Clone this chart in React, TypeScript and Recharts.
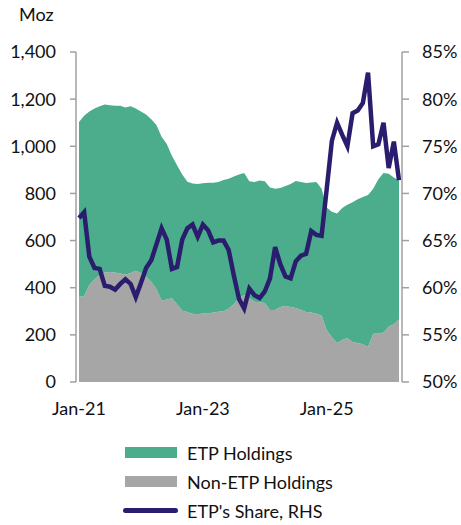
import React from 'react';
import {
    ComposedChart,
    Area,
    Line,
    XAxis,
    YAxis,
} from 'recharts';

// Monthly, Jan-21 .. Mar-26
const months: string[] = [
    'Jan-21', 'Feb-21', 'Mar-21', 'Apr-21', 'May-21', 'Jun-21', 'Jul-21', 'Aug-21', 'Sep-21', 'Oct-21', 'Nov-21', 'Dec-21',
    'Jan-22', 'Feb-22', 'Mar-22', 'Apr-22', 'May-22', 'Jun-22', 'Jul-22', 'Aug-22', 'Sep-22', 'Oct-22', 'Nov-22', 'Dec-22',
    'Jan-23', 'Feb-23', 'Mar-23', 'Apr-23', 'May-23', 'Jun-23', 'Jul-23', 'Aug-23', 'Sep-23', 'Oct-23', 'Nov-23', 'Dec-23',
    'Jan-24', 'Feb-24', 'Mar-24', 'Apr-24', 'May-24', 'Jun-24', 'Jul-24', 'Aug-24', 'Sep-24', 'Oct-24', 'Nov-24', 'Dec-24',
    'Jan-25', 'Feb-25', 'Mar-25', 'Apr-25', 'May-25', 'Jun-25', 'Jul-25', 'Aug-25', 'Sep-25', 'Oct-25', 'Nov-25', 'Dec-25',
    'Jan-26', 'Feb-26', 'Mar-26',
];

// Moz
const nonEtpHoldings: number[] = [
    361, 365, 411, 435, 455, 465, 467, 465, 460, 455, 462, 472,
    462, 448, 425, 395, 345, 350, 355, 330, 302, 297, 290, 285,
    292, 290, 295, 298, 300, 312, 330, 358, 368, 355, 340, 338,
    335, 305, 305, 318, 322, 318, 314, 305, 297, 295, 290, 282,
    220, 190, 165, 178, 187, 170, 165, 160, 148, 205, 206, 210,
    235, 245, 265,
];

const etpHoldings: number[] = [
    742, 765, 737, 725, 715, 712, 707, 707, 712, 710, 708, 688,
    686, 687, 690, 695, 695, 660, 605, 590, 578, 553, 552, 555,
    551, 555, 550, 550, 557, 550, 542, 522, 519, 497, 508, 517,
    517, 520, 515, 505, 510, 522, 539, 543, 547, 551, 558, 538,
    520, 532, 550, 560, 565, 593, 610, 625, 645, 615, 654, 677,
    649, 623, 590,
];

// %, right axis
const etpShare: number[] = [
    67.4, 68.0, 63.3, 62.1, 62.0, 60.2, 60.1, 59.8, 60.4, 60.9, 60.4, 59.0,
    60.5, 62.1, 62.9, 64.6, 66.3, 65.1, 62.0, 62.2, 65.1, 66.3, 66.7, 65.4,
    66.7, 66.1, 64.8, 65.0, 65.0, 64.0, 61.3, 58.8, 57.8, 59.9, 59.2, 58.9,
    59.6, 61.0, 64.3, 62.5, 61.2, 61.0, 62.8, 63.4, 63.6, 66.0, 65.6, 65.5,
    70.5, 75.6, 77.5, 76.2, 75.0, 78.5, 78.8, 79.6, 82.8, 75.0, 75.2, 77.5,
    72.7, 75.5, 71.4,
];

const xTicks = ['Jan-21', 'Jan-23', 'Jan-25'];
const leftTicks = [0, 200, 400, 600, 800, 1000, 1200, 1400];
const rightTicks = [50, 55, 60, 65, 70, 75, 80, 85];

const GREEN = '#4cad8c';
const GREY = '#a6a6a6';
const NAVY = '#2b1d6e';
const AXIS = '#a0a0a0';
const FONT = 'Lato, "Open Sans", sans-serif';

const data = months.map((m, i) => ({
    month: m,
    nonEtp: nonEtpHoldings[i],
    etp: etpHoldings[i],
    share: etpShare[i],
}));

const tickStyle = { fontSize: 18, fill: '#111', fontFamily: FONT };

const LegendRow = ({ kind, color, label }: { kind: 'box' | 'line'; color: string; label: string }) => (
    <div style={{ display: 'flex', alignItems: 'center', height: 29 }}>
        {kind === 'box' ? (
            <div style={{ width: 52, height: 11, background: color, marginLeft: 25 }} />
        ) : (
            <div style={{ width: 55, height: 5, background: color, borderRadius: 3, marginLeft: 23, marginRight: -1 }} />
        )}
        <span style={{ marginLeft: 10 }}>{label}</span>
    </div>
);

export default function App() {
    return (
        <div style={{ position: 'absolute', left: 0, top: 0, width: 461, height: 525, background: '#fff', fontFamily: FONT }}>
            <div style={{ position: 'absolute', left: 19, top: 3, fontSize: 18, color: '#111' }}>Moz</div>
            <ComposedChart
                width={461}
                height={425}
                data={data}
                margin={{ top: 52, right: 0, bottom: 13, left: 0 }}
            >
                <XAxis
                    dataKey="month"
                    ticks={xTicks}
                    interval={0}
                    axisLine={false}
                    tickLine={false}
                    tickSize={0}
                    tickMargin={20}
                    padding={{ left: 3, right: 3 }}
                    tick={tickStyle}
                    height={30}
                />
                <YAxis
                    yAxisId="left"
                    domain={[0, 1400]}
                    ticks={leftTicks}
                    width={76}
                    tickSize={6}
                    tickMargin={14}
                    stroke={AXIS}
                    strokeWidth={1.5}
                    tick={tickStyle}
                    tickFormatter={(v: number) => v.toLocaleString('en-US')}
                />
                <YAxis
                    yAxisId="right"
                    orientation="right"
                    domain={[50, 85]}
                    ticks={rightTicks}
                    width={59}
                    tickSize={7}
                    tickMargin={13}
                    stroke={AXIS}
                    strokeWidth={1.5}
                    tick={tickStyle}
                    tickFormatter={(v: number) => `${v}%`}
                />
                <Area
                    yAxisId="left"
                    type="linear"
                    dataKey="nonEtp"
                    stackId="h"
                    stroke="none"
                    fill={GREY}
                    fillOpacity={1}
                    isAnimationActive={false}
                />
                <Area
                    yAxisId="left"
                    type="linear"
                    dataKey="etp"
                    stackId="h"
                    stroke="none"
                    fill={GREEN}
                    fillOpacity={1}
                    isAnimationActive={false}
                />
                <Line
                    yAxisId="right"
                    type="linear"
                    dataKey="share"
                    stroke={NAVY}
                    strokeWidth={4.5}
                    dot={false}
                    isAnimationActive={false}
                />
            </ComposedChart>
            <div style={{ position: 'absolute', left: 100, top: 438, fontSize: 18, color: '#111' }}>
                <LegendRow kind="box" color={GREEN} label="ETP Holdings" />
                <LegendRow kind="box" color={GREY} label="Non-ETP Holdings" />
                <LegendRow kind="line" color={NAVY} label="ETP's Share, RHS" />
            </div>
        </div>
    );
}
